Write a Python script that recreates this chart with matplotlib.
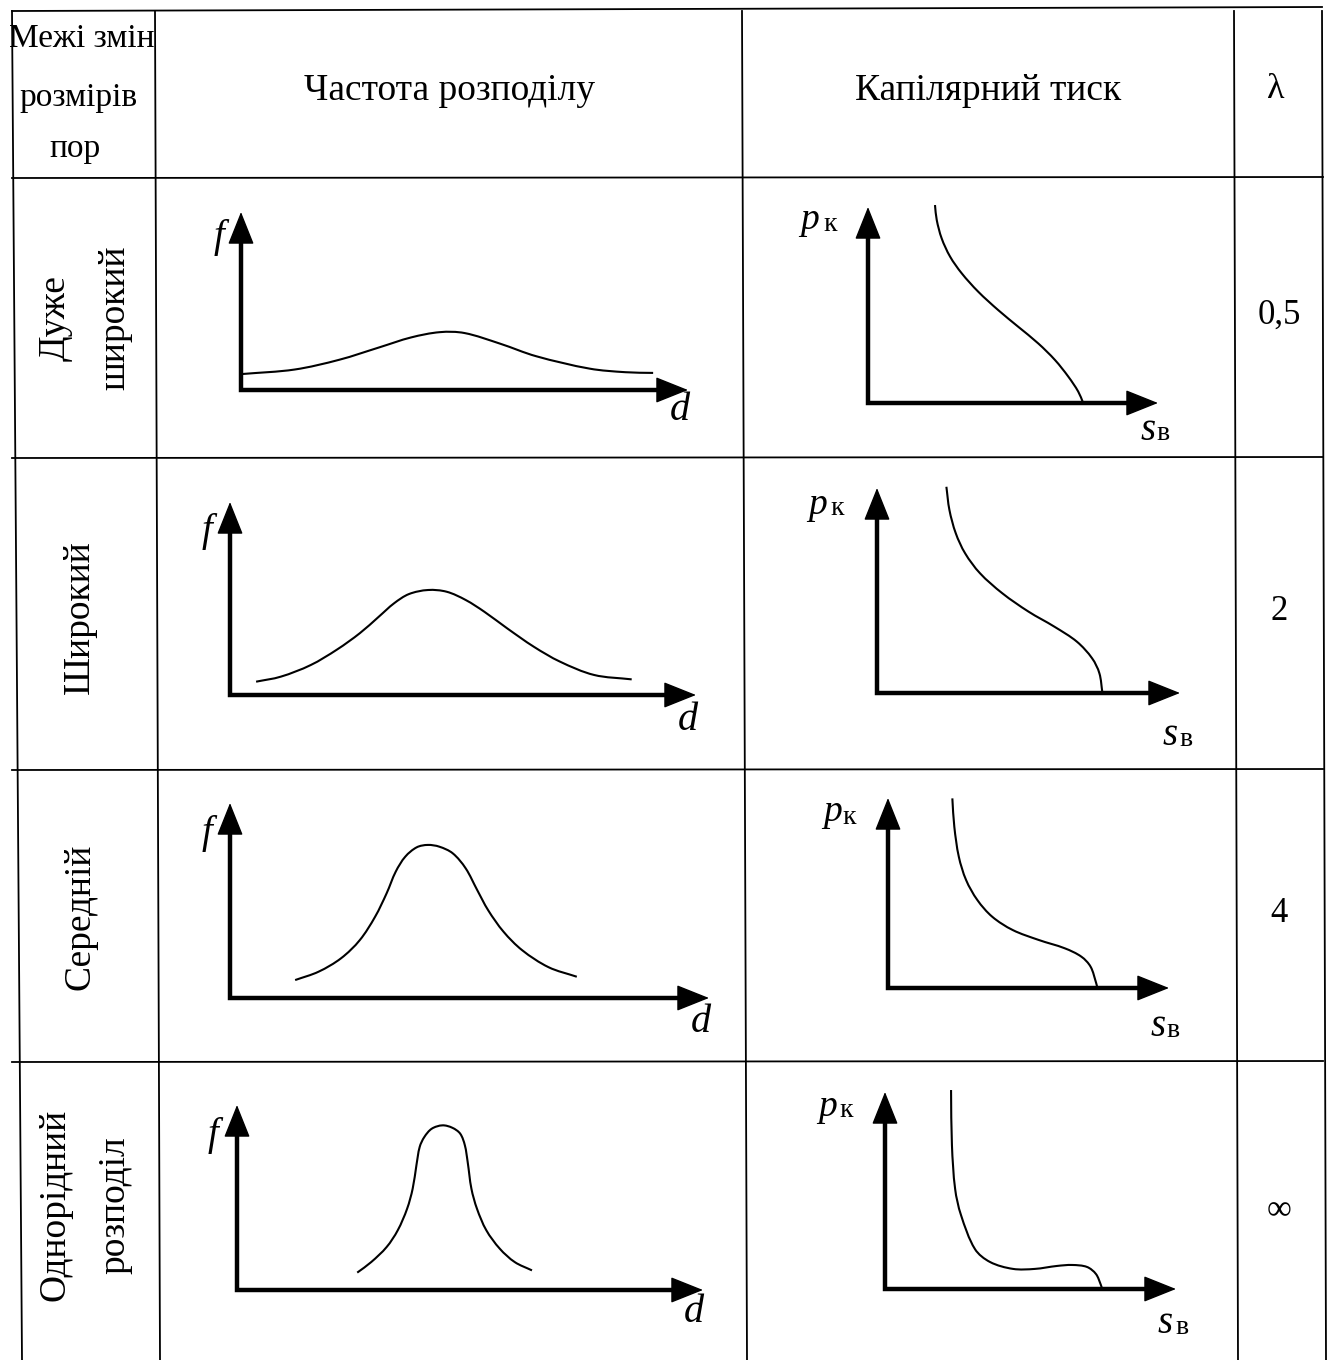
import numpy as np
import matplotlib
matplotlib.use("Agg")
import matplotlib.pyplot as plt
from matplotlib.path import Path
from matplotlib.patches import PathPatch

plt.rcParams['font.family'] = ['Liberation Serif', 'DejaVu Serif']

# --- table text ---
header_left = ["Межі змін", "розмірів", "пор"]
header_freq = "Частота розподілу"
header_cap = "Капілярний тиск"
header_lam = "λ"
row_labels = [["Дуже", "широкий"], ["Широкий"], ["Середній"], ["Однорідний", "розподіл"]]
lam_values = ["0,5", "2", "4", "∞"]

# --- frequency curves f(d) (axis units 0..100) ---
freq_d = [
    [0.4, 12.0, 22.0, 31.0, 38.0, 44.5, 50.0, 58.0, 66.0, 78.0, 86.0, 92.2],
    [5.6, 10.9, 17.3, 23.0, 27.9, 31.9, 35.2, 38.4, 42.5, 46.5, 50.6, 54.6, 59.5, 65.2, 70.8, 78.1, 86.2],
    [13.6, 18.5, 23.2, 27.1, 30.3, 32.7, 34.6, 36.6, 39.0, 41.3, 43.7, 46.5, 49.2, 51.6, 53.9, 57.1,
     61.0, 66.5, 72.4],
    [25.8, 28.8, 32.1, 34.5, 36.5, 37.7, 38.5, 39.2, 40.2, 41.8, 44.1, 46.2, 47.9, 48.9, 49.5, 50.3,
     51.5, 53.5, 56.4, 59.6, 63.3],
]
freq_f = [
    [9.0, 11.5, 17.0, 24.0, 29.5, 32.5, 32.0, 26.0, 19.0, 12.0, 10.0, 9.6],
    [6.9, 9.5, 15.5, 23.6, 32.1, 40.5, 47.5, 52.3, 54.4, 53.5, 49.2, 43.1, 34.5, 25.0, 17.3, 10.4, 8.1],
    [9.2, 13.5, 20.4, 29.7, 41.7, 53.7, 64.8, 72.5, 77.3, 78.5, 77.6, 74.2, 66.5, 55.4, 45.0, 34.0,
     24.5, 15.8, 10.9],
    [9.4, 15.1, 23.2, 32.3, 43.9, 54.8, 67.4, 77.3, 82.7, 87.2, 89.0, 87.7, 84.5, 78.2, 69.2, 54.8,
     43.9, 32.3, 22.3, 15.1, 10.6],
]

# --- capillary pressure curves p_k(s_v), axis units 0..100 ---
cap_s = [
    [23.1, 23.7, 25.4, 28.3, 32.3, 38.0, 44.9, 51.8, 58.7, 64.5, 69.1, 72.5, 74.2],
    [22.9, 23.9, 26.0, 29.1, 34.0, 41.4, 50.0, 58.6, 66.0, 71.0, 73.4, 74.4],
    [22.9, 23.6, 25.2, 27.8, 31.8, 37.1, 44.4, 53.6, 62.9, 68.8, 72.1, 74.1, 74.5],
    [22.7, 23.0, 24.1, 26.1, 30.9, 36.1, 44.0, 51.5, 59.1, 64.3, 69.4, 72.5, 74.2, 74.6],
]
cap_p = [
    [101.0, 93.4, 84.0, 74.7, 66.2, 56.8, 47.4, 38.9, 30.4, 21.9, 13.4, 5.8, 0.0],
    [100.6, 89.3, 77.9, 68.1, 58.4, 48.6, 39.7, 32.3, 25.0, 16.9, 9.6, 0.0],
    [99.8, 84.9, 69.1, 56.8, 46.3, 37.5, 30.5, 25.3, 20.9, 16.5, 11.2, 2.5, 0.0],
    [101.0, 73.1, 50.8, 37.6, 20.3, 13.7, 10.2, 10.2, 11.7, 12.2, 11.2, 7.6, 2.0, 0.0],
]

W, H = 1328, 1360
fig = plt.figure(figsize=(W / 100, H / 100), dpi=100)
bg = fig.add_axes([0, 0, 1, 1])
bg.set_xlim(0, W)
bg.set_ylim(H, 0)
bg.axis('off')


def smooth_path(xs, ys, sx, sy):
    # smooth curve through the read points (chord-length Hermite -> cubic Bezier)
    pts = np.column_stack([xs, ys]).astype(float)
    n = len(pts)
    seg = np.hypot(np.diff(pts[:, 0]) * sx, np.diff(pts[:, 1]) * sy)
    m = np.zeros_like(pts)
    m[0] = (pts[1] - pts[0]) / seg[0]
    m[-1] = (pts[-1] - pts[-2]) / seg[-1]
    for i in range(1, n - 1):
        m[i] = (pts[i + 1] - pts[i - 1]) / (seg[i - 1] + seg[i])
    verts = [pts[0]]
    codes = [Path.MOVETO]
    for i in range(n - 1):
        verts += [pts[i] + m[i] * seg[i] / 3, pts[i + 1] - m[i + 1] * seg[i] / 3, pts[i + 1]]
        codes += [Path.CURVE4] * 3
    return Path(verts, codes)


# table grid
lw_t = 1.3
bg.plot([12, 1322], [11, 7], color='k', lw=lw_t)
for yy in [178, 458, 770, 1062]:
    bg.plot([12, 1323], [yy, yy - 1], color='k', lw=lw_t)
for x0, x1 in [(12, 22), (155, 160), (742, 747), (1234, 1238), (1322, 1326)]:
    bg.plot([x0, x1], [11, H], color='k', lw=lw_t)

for txt, x, y in zip(header_left, [82, 78, 75], [47, 106, 157]):
    bg.text(x, y, txt, ha='center', va='baseline', fontsize=24)
bg.text(450, 100, header_freq, ha='center', va='baseline', fontsize=27)
bg.text(988, 100, header_cap, ha='center', va='baseline', fontsize=27)
bg.text(1276, 98, header_lam, ha='center', va='baseline', fontsize=26)

row_mid = [318, 617, 917, 1205]
for labels, yc in zip(row_labels, row_mid):
    xs = [55, 115] if len(labels) == 2 else [80]
    for lab, xc in zip(labels, xs):
        bg.text(xc, yc, lab, ha='center', va='center', rotation=90, fontsize=27)

for val, yb in zip(lam_values, [324, 620, 922, 1219]):
    bg.text(1279, yb, val, ha='center', va='baseline', fontsize=25)

# panel boxes in pixels: origin x, origin y, arrow tip x, arrow tip y
freq_boxes = [(241, 390, 688, 212), (230, 695, 696, 502), (230, 998, 709, 803), (237, 1290, 703, 1105)]
cap_boxes = [(868, 403, 1158, 207), (877, 693, 1180, 488), (888, 988, 1169, 798), (885, 1289, 1176, 1092)]
f_pos = [(219, 238), (207, 531), (207, 833), (213, 1135)]
d_pos = [(680, 411), (688, 720), (701, 1022), (694, 1312)]
p_pos = [(810, 229, 823, 231), (818, 514, 830, 515), (833, 821, 842, 824), (828, 1116, 839, 1117)]
s_pos = [(1148, 440, 1156, 440), (1170, 745, 1179, 746), (1158, 1036, 1166, 1037), (1165, 1333, 1175, 1334)]


def panel(box, xs, ys):
    ox, oy, xt, yt = box
    ax = fig.add_axes([ox / W, 1 - oy / H, (xt - ox) / W, (oy - yt) / H])
    ax.set_xlim(0, 100)
    ax.set_ylim(0, 100)
    ax.axis('off')
    ax.plot([0, 0, 0.97], [0.95, 0, 0], transform=ax.transAxes, color='k', lw=3.2,
            solid_joinstyle='miter', solid_capstyle='butt', clip_on=False)
    head = dict(arrowstyle="-|>,head_length=0.75,head_width=0.3", color='k', lw=1,
                mutation_scale=28, shrinkA=0, shrinkB=0)
    ax.annotate("", xy=(1, 0), xytext=(0.85, 0), xycoords='axes fraction', arrowprops=head)
    ax.annotate("", xy=(0, 1), xytext=(0, 0.7), xycoords='axes fraction', arrowprops=head)
    sx = (xt - ox) / 100.0
    sy = (oy - yt) / 100.0
    ax.add_patch(PathPatch(smooth_path(xs, ys, sx, sy), facecolor='none', edgecolor='k',
                           lw=1.5, clip_on=False))
    return ax


for i in range(4):
    panel(freq_boxes[i], freq_d[i], freq_f[i])
    bg.text(*f_pos[i], "f", style='italic', ha='center', va='center', fontsize=28)
    bg.text(*d_pos[i], "d", style='italic', ha='center', va='center', fontsize=29)

    panel(cap_boxes[i], cap_s[i], cap_p[i])
    px, py, kx, ky = p_pos[i]
    bg.text(px, py, "p", style='italic', ha='center', va='baseline', fontsize=27)
    bg.text(kx, ky, "к", ha='left', va='baseline', fontsize=20)
    sx_, sy_, vx, vy = s_pos[i]
    bg.text(sx_, sy_, "s", style='italic', ha='center', va='baseline', fontsize=28)
    bg.text(vx, vy, "в", ha='left', va='baseline', fontsize=20)

fig.savefig("out.png", dpi=100)
